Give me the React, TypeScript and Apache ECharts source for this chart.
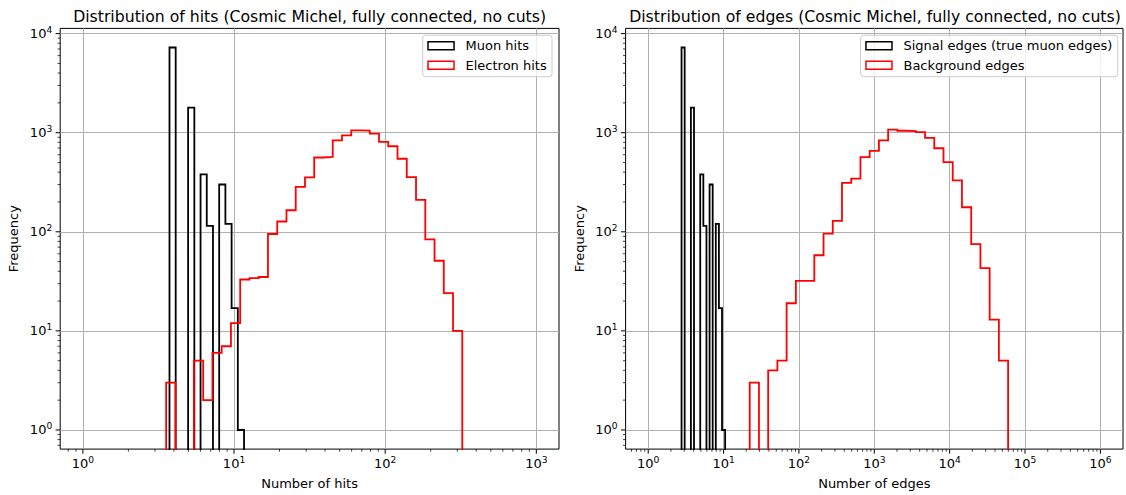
import { useEffect, useRef } from 'react';
import * as echarts from 'echarts';

const FONT = 'DejaVu Sans';
const FLOOR = 1e-3;

// ---- Left panel: hits ----
const MUON_HIT_EDGES = [3.741, 4.112, 4.521, 4.969, 5.463, 6.005, 6.601, 7.256, 7.976, 8.768, 9.638, 10.595, 11.646];
const MUON_HIT_COUNTS = [7240, 0, 0, 1790, 0, 380, 115, 0, 300, 120, 17, 1];
const ELECTRON_HIT_EDGES = [3.556, 4.095, 4.716, 5.429, 6.251, 7.197, 8.286, 9.541, 10.985, 12.648, 14.563, 16.768, 19.307, 22.23, 25.595, 29.471, 33.932, 39.069, 44.984, 51.795, 59.636, 68.665, 79.06, 91.03, 104.81, 120.68, 138.95, 159.99, 184.21, 212.1, 244.21, 281.19, 323.75];
const ELECTRON_HIT_COUNTS = [3, 0, 0, 5, 2, 6, 7, 12, 33, 34, 35, 95, 127, 165, 284, 355, 562, 571, 838, 940, 1055, 1050, 977, 807, 730, 546, 357, 210, 84, 51, 24, 10];

// ---- Right panel: edges ----
const SIGNAL_EDGE_EDGES = [2.769, 3.046, 3.35, 3.684, 4.052, 4.457, 4.901, 5.39, 5.928, 6.52, 7.17, 7.885, 8.672, 9.539, 10.49];
const SIGNAL_EDGE_COUNTS = [7240, 0, 0, 1790, 0, 0, 380, 115, 0, 300, 0, 120, 17, 1];
const BACKGROUND_EDGE_EDGES = [22.23, 29.471, 39.069, 51.795, 68.665, 91.03, 120.68, 159.99, 212.1, 281.19, 372.76, 494.17, 655.13, 868.51, 1151.4, 1526.4, 2023.6, 2682.7, 3556.5, 4714.9, 6250.6, 8286.4, 10985, 14563, 19307, 25595, 33932, 44984, 59636];
const BACKGROUND_EDGE_COUNTS = [3, 0, 4, 5, 19, 32, 32, 58, 96, 129, 311, 344, 566, 656, 838, 1072, 1047, 1040, 1016, 885, 697, 505, 331, 177, 75, 43, 13, 5];

// ---- Axes ----
const X_HITS_RANGE = [0.7079, 1412.5];
const X_EDGES_RANGE = [0.5012, 1995262];
const Y_RANGE = [0.6412, 11290];
const X_HITS_MAJOR = [1, 10, 100, 1000];
const X_EDGES_MAJOR = [1, 10, 100, 1000, 10000, 100000, 1000000];
const Y_MAJOR = [1, 10, 100, 1000, 10000];
const MINOR_MULTS = [2, 3, 4, 5, 6, 7, 8, 9];

const TITLES = [
  'Distribution of hits (Cosmic Michel, fully connected, no cuts)',
  'Distribution of edges (Cosmic Michel, fully connected, no cuts)',
];
const X_NAMES = ['Number of hits', 'Number of edges'];
const Y_NAME = 'Frequency';
const LEGEND_HITS = ['Muon hits', 'Electron hits'];
const LEGEND_EDGES = ['Signal edges (true muon edges)', 'Background edges'];

const GRID_W = 498.8;
const GRID_TOP = 28.4;
const GRID_H = 424.9;
const GRID_LEFTS = [60.2, 625.6];

function minorTicks(range: number[]): number[] {
  const out: number[] = [];
  const lo = Math.floor(Math.log10(range[0]));
  const hi = Math.ceil(Math.log10(range[1]));
  for (let e = lo; e <= hi; e++) {
    for (const m of MINOR_MULTS) {
      const v = m * Math.pow(10, e);
      if (v > range[0] && v < range[1]) out.push(v);
    }
  }
  return out;
}

function stepPoints(edges: number[], counts: number[]): number[][] {
  const pts: number[][] = [[edges[0], FLOOR]];
  counts.forEach((c, i) => {
    const y = c > 0 ? c : FLOOR;
    pts.push([edges[i], y], [edges[i + 1], y]);
  });
  pts.push([edges[edges.length - 1], FLOOR]);
  return pts;
}

const powLabel = (v: number) => {
  const e = Math.log10(v);
  const r = Math.round(e);
  if (Math.abs(e - r) > 1e-6) return '';
  return `10{sup|${r}}`;
};

const labelStyle = {
  formatter: powLabel,
  fontFamily: FONT,
  fontSize: 13,
  color: '#000',
  lineHeight: 17,
  rich: { sup: { fontFamily: FONT, fontSize: 9.1, color: '#000', verticalAlign: 'top' } },
};

const splitLine = {
  show: true,
  showMinLine: false,
  showMaxLine: false,
  lineStyle: { color: '#b0b0b0', width: 1 },
};

function xAxisCfg(idx: number, range: number[]) {
  return {
    type: 'log',
    gridIndex: idx,
    logBase: 10,
    min: range[0],
    max: range[1],
    name: X_NAMES[idx],
    nameLocation: 'middle',
    nameGap: 27.5,
    nameTextStyle: { fontFamily: FONT, fontSize: 13, color: '#000' },
    axisLine: { show: false },
    axisTick: { show: false },
    axisLabel: { ...labelStyle, margin: 6 },
    splitLine,
  };
}

function yAxisCfg(idx: number) {
  return {
    type: 'log',
    gridIndex: idx,
    logBase: 10,
    min: Y_RANGE[0],
    max: Y_RANGE[1],
    name: Y_NAME,
    nameLocation: 'middle',
    nameGap: 40,
    nameTextStyle: { fontFamily: FONT, fontSize: 13, color: '#000' },
    axisLine: { show: false },
    axisTick: { show: false },
    axisLabel: { ...labelStyle, margin: 8 },
    splitLine,
  };
}

function tickSeries(idx: number, xRange: number[], xMajor: number[]) {
  const items: number[][] = [];
  xMajor.forEach((v) => items.push([v, Y_RANGE[0], 4.6, 1, 0]));
  minorTicks(xRange).forEach((v) => items.push([v, Y_RANGE[0], 2.6, 0.75, 0]));
  Y_MAJOR.forEach((v) => items.push([xRange[0], v, 4.6, 1, 1]));
  minorTicks(Y_RANGE).forEach((v) => items.push([xRange[0], v, 2.6, 0.75, 1]));
  return {
    type: 'custom',
    xAxisIndex: idx,
    yAxisIndex: idx,
    silent: true,
    clip: false,
    z: 6,
    data: items,
    renderItem: (_params: any, api: any) => {
      const p = api.coord([api.value(0), api.value(1)]);
      const len = api.value(2) as number;
      const w = api.value(3) as number;
      const vertical = api.value(4) === 0;
      return {
        type: 'line',
        shape: vertical
          ? { x1: p[0], y1: p[1], x2: p[0], y2: p[1] + len }
          : { x1: p[0], y1: p[1], x2: p[0] - len, y2: p[1] },
        style: { stroke: '#000', lineWidth: w },
      };
    },
  };
}

function histSeries(name: string, idx: number, edges: number[], counts: number[], color: string, z: number) {
  return {
    type: 'line',
    name,
    xAxisIndex: idx,
    yAxisIndex: idx,
    data: stepPoints(edges, counts),
    showSymbol: false,
    symbol: 'none',
    clip: true,
    z,
    lineStyle: { color, width: 1.8, join: 'miter' },
    itemStyle: { color },
    emphasis: { disabled: true },
  };
}

function legendCfg(names: string[], right: number) {
  const colors = ['#000000', '#ff0000'];
  return {
    orient: 'vertical',
    right,
    top: 35.3,
    selectedMode: false,
    data: names.map((n, i) => ({
      name: n,
      icon: 'rect',
      itemStyle: { color: 'rgba(0,0,0,0)', borderColor: colors[i], borderWidth: 1.5 },
    })),
    itemWidth: 26,
    itemHeight: 8,
    itemGap: 6.4,
    padding: [4, 5.3, 5, 4.6],
    borderColor: '#cccccc',
    borderWidth: 1,
    borderRadius: 3,
    backgroundColor: 'rgba(255,255,255,0.8)',
    textStyle: { fontFamily: FONT, fontSize: 13, color: '#000', padding: [0, 0, 0, 6.5] },
  };
}

export default function App() {
  const ref = useRef<HTMLDivElement>(null);
  useEffect(() => {
    if (!ref.current) return;
    const chart = echarts.init(ref.current, undefined, { renderer: 'svg' });
    chart.setOption({
      animation: false,
      backgroundColor: '#ffffff',
      title: TITLES.map((t, i) => ({
        text: t,
        left: GRID_LEFTS[i] + GRID_W / 2,
        textAlign: 'center',
        top: 8,
        padding: 0,
        textStyle: { fontFamily: FONT, fontSize: 15.7, fontWeight: 'normal', color: '#000' },
      })),
      grid: GRID_LEFTS.map((l) => ({
        left: l,
        top: GRID_TOP,
        width: GRID_W,
        height: GRID_H,
        show: true,
        borderColor: '#000',
        borderWidth: 1,
        backgroundColor: 'transparent',
        containLabel: false,
      })),
      xAxis: [xAxisCfg(0, X_HITS_RANGE), xAxisCfg(1, X_EDGES_RANGE)],
      yAxis: [yAxisCfg(0), yAxisCfg(1)],
      legend: [legendCfg(LEGEND_HITS, 1126 - 552), legendCfg(LEGEND_EDGES, 1126 - 1117.7)],
      series: [
        histSeries(LEGEND_HITS[0], 0, MUON_HIT_EDGES, MUON_HIT_COUNTS, '#000000', 3),
        histSeries(LEGEND_HITS[1], 0, ELECTRON_HIT_EDGES, ELECTRON_HIT_COUNTS, '#ff0000', 4),
        histSeries(LEGEND_EDGES[0], 1, SIGNAL_EDGE_EDGES, SIGNAL_EDGE_COUNTS, '#000000', 3),
        histSeries(LEGEND_EDGES[1], 1, BACKGROUND_EDGE_EDGES, BACKGROUND_EDGE_COUNTS, '#ff0000', 4),
        tickSeries(0, X_HITS_RANGE, X_HITS_MAJOR),
        tickSeries(1, X_EDGES_RANGE, X_EDGES_MAJOR),
      ],
    });
    return () => chart.dispose();
  }, []);
  return (
    <div
      ref={ref}
      style={{ position: 'fixed', left: 0, top: 0, width: 1126, height: 495, background: '#fff' }}
    />
  );
}
